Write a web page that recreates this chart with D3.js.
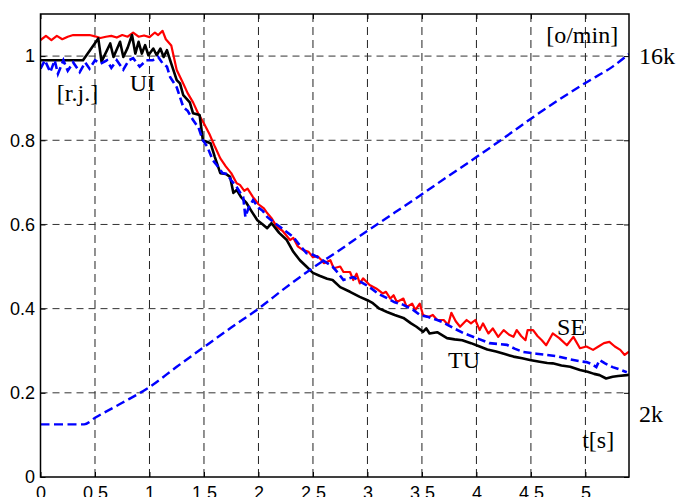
<!DOCTYPE html>
<html><head><meta charset="utf-8">
<script src="https://cdn.jsdelivr.net/npm/d3@7"></script>
<style>html,body{margin:0;padding:0;background:#fff;overflow:hidden}</style>
</head><body><svg id="c" width="678" height="497"></svg>
<script>
// ---- data ----
const xTicks = [0,0.5,1,1.5,2,2.5,3,3.5,4,4.5,5];
const yTicks = [0,0.2,0.4,0.6,0.8,1];
const rpmTicks = [2,16];

// SE (red, solid) [t, r.j.]
const seData = [[0,1.038],[0.05,1.048],[0.1,1.038],[0.15,1.048],[0.2,1.04],[0.25,1.046],[0.3,1.05],[0.45,1.05],[0.5,1.047],[0.55,1.043],[0.6,1.046],[0.65,1.048],[0.7,1.044],[0.75,1.05],[0.8,1.046],[0.85,1.056],[0.9,1.046],[0.95,1.049],[1.0,1.045],[1.05,1.056],[1.08,1.05],[1.12,1.06],[1.15,1.04],[1.2,1.025],[1.25,0.967],[1.3,0.94],[1.35,0.912],[1.4,0.89],[1.45,0.862],[1.5,0.84],[1.55,0.815],[1.6,0.785],[1.65,0.757],[1.7,0.738],[1.75,0.722],[1.8,0.698],[1.83,0.694],[1.87,0.68],[1.9,0.685],[1.95,0.665],[2.0,0.648],[2.05,0.638],[2.08,0.627],[2.12,0.615],[2.17,0.594],[2.22,0.585],[2.29,0.563],[2.32,0.568],[2.36,0.548],[2.41,0.539],[2.46,0.535],[2.5,0.522],[2.54,0.525],[2.58,0.515],[2.6,0.508],[2.66,0.515],[2.69,0.496],[2.75,0.5],[2.78,0.487],[2.84,0.487],[2.87,0.468],[2.9,0.483],[2.93,0.46],[2.96,0.472],[3.02,0.456],[3.08,0.448],[3.14,0.436],[3.17,0.44],[3.21,0.424],[3.24,0.432],[3.27,0.416],[3.33,0.424],[3.36,0.404],[3.41,0.412],[3.44,0.397],[3.48,0.412],[3.51,0.385],[3.56,0.38],[3.6,0.385],[3.64,0.373],[3.7,0.373],[3.74,0.361],[3.77,0.39],[3.81,0.37],[3.85,0.357],[3.91,0.373],[3.95,0.365],[3.99,0.373],[4.03,0.349],[4.06,0.365],[4.11,0.341],[4.15,0.353],[4.2,0.333],[4.25,0.349],[4.3,0.338],[4.34,0.333],[4.37,0.349],[4.41,0.335],[4.45,0.325],[4.47,0.349],[4.52,0.349],[4.56,0.335],[4.6,0.325],[4.64,0.313],[4.7,0.341],[4.76,0.33],[4.83,0.313],[4.89,0.333],[4.95,0.306],[5.01,0.31],[5.07,0.302],[5.12,0.31],[5.17,0.318],[5.22,0.321],[5.27,0.31],[5.32,0.302],[5.36,0.29],[5.4,0.298]];

// TU (black, solid)
const tuData = [[0,0.99],[0.39,0.99],[0.53,1.042],[0.56,0.987],[0.64,1.03],[0.67,0.998],[0.73,1.034],[0.76,0.998],[0.8,1.02],[0.84,1.05],[0.87,1.006],[0.9,1.034],[0.93,1.006],[0.96,1.026],[0.99,1.002],[1.035,1.018],[1.066,1.002],[1.1,1.018],[1.13,0.998],[1.16,1.014],[1.19,0.99],[1.25,0.943],[1.28,0.935],[1.31,0.907],[1.37,0.89],[1.4,0.864],[1.46,0.86],[1.49,0.8],[1.56,0.793],[1.6,0.76],[1.65,0.722],[1.7,0.72],[1.74,0.713],[1.77,0.675],[1.8,0.682],[1.84,0.665],[1.89,0.651],[1.94,0.63],[1.99,0.61],[2.04,0.6],[2.08,0.591],[2.12,0.603],[2.19,0.58],[2.26,0.563],[2.32,0.535],[2.38,0.515],[2.44,0.5],[2.5,0.485],[2.56,0.478],[2.63,0.471],[2.68,0.468],[2.75,0.451],[2.84,0.44],[2.93,0.428],[3.0,0.42],[3.05,0.413],[3.11,0.4],[3.18,0.392],[3.25,0.385],[3.33,0.378],[3.4,0.365],[3.45,0.357],[3.51,0.345],[3.54,0.353],[3.57,0.341],[3.64,0.344],[3.73,0.33],[3.8,0.327],[3.87,0.325],[3.95,0.318],[4.03,0.31],[4.1,0.303],[4.18,0.298],[4.26,0.292],[4.34,0.286],[4.42,0.282],[4.49,0.278],[4.58,0.274],[4.65,0.271],[4.7,0.27],[4.78,0.265],[4.86,0.262],[4.95,0.254],[5.02,0.25],[5.08,0.245],[5.13,0.242],[5.19,0.234],[5.25,0.238],[5.3,0.24],[5.38,0.242],[5.4,0.243]];

// UI (blue, dashed)
const uiData = [[0,0.97],[0.04,0.99],[0.09,0.962],[0.13,0.99],[0.16,0.958],[0.21,0.99],[0.25,0.965],[0.3,0.985],[0.36,0.962],[0.41,0.985],[0.45,0.97],[0.5,0.99],[0.55,0.982],[0.61,0.99],[0.65,0.972],[0.7,0.99],[0.76,0.968],[0.81,0.99],[0.85,0.995],[0.91,0.975],[0.97,0.99],[1.03,0.99],[1.08,0.998],[1.12,0.983],[1.16,0.975],[1.19,0.95],[1.25,0.926],[1.31,0.879],[1.35,0.87],[1.4,0.848],[1.45,0.83],[1.49,0.8],[1.53,0.785],[1.58,0.753],[1.62,0.74],[1.67,0.722],[1.71,0.72],[1.75,0.705],[1.8,0.689],[1.84,0.672],[1.86,0.665],[1.88,0.618],[1.91,0.64],[1.95,0.658],[2.0,0.64],[2.04,0.632],[2.08,0.618],[2.14,0.605],[2.2,0.594],[2.26,0.582],[2.32,0.57],[2.38,0.55],[2.44,0.532],[2.5,0.528],[2.56,0.52],[2.62,0.51],[2.68,0.5],[2.73,0.485],[2.78,0.468],[2.83,0.472],[2.87,0.475],[2.95,0.462],[3.02,0.451],[3.1,0.435],[3.18,0.425],[3.25,0.415],[3.33,0.409],[3.42,0.397],[3.48,0.385],[3.56,0.38],[3.64,0.373],[3.69,0.368],[3.78,0.355],[3.88,0.342],[4.0,0.33],[4.12,0.318],[4.2,0.316],[4.28,0.314],[4.35,0.305],[4.43,0.297],[4.55,0.293],[4.65,0.29],[4.74,0.287],[4.85,0.28],[4.95,0.275],[5.01,0.273],[5.06,0.268],[5.1,0.261],[5.13,0.278],[5.18,0.27],[5.25,0.261],[5.32,0.255],[5.38,0.249]];

// engine speed [k o/min] (blue, dashed, right axis)
const rpmData = [[0,2.0],[0.4,2.0],[0.5,2.25],[0.75,2.82],[1.0,3.42],[1.25,4.19],[1.5,4.94],[1.75,5.68],[2.0,6.4],[2.25,7.2],[2.5,7.95],[2.75,8.64],[3.0,9.36],[3.25,10.05],[3.5,10.75],[3.75,11.46],[4.0,12.16],[4.25,12.88],[4.5,13.62],[4.75,14.32],[5.0,14.98],[5.25,15.6],[5.4,16.08]];

// annotation texts (in data units)
const notes = [
  {text:"[r.j.]", t:0.15, v:0.893},
  {text:"UI", t:0.82, v:0.916},
  {text:"[o/min]", t:4.64, v:1.031},
  {text:"SE", t:4.74, v:0.337},
  {text:"TU", t:3.74, v:0.259},
  {text:"t[s]", t:4.97, v:0.069}
];

// ---- layout ----
const svg = d3.select("#c");
const L = 40.5, R = 629, T = 14, B = 477;
const x = d3.scaleLinear().domain([0,5.4]).range([L,R]);
const y = d3.scaleLinear().domain([0,1.1]).range([B,T]);
const yR = d3.scaleLinear().domain([0,17.6]).range([B,T]);

svg.append("rect").attr("width",678).attr("height",497).attr("fill","#fff");

// grid
const g = svg.append("g");
g.selectAll(".vg").data(xTicks.filter(d=>d>0)).join("line")
  .attr("x1",d=>x(d)).attr("x2",d=>x(d)).attr("y1",T).attr("y2",B)
  .attr("stroke","#222").attr("stroke-width",1).attr("stroke-dasharray","8,5");
g.selectAll(".hg").data(yTicks.filter(d=>d>0)).join("line")
  .attr("x1",L).attr("x2",R).attr("y1",d=>y(d)).attr("y2",d=>y(d))
  .attr("stroke","#333").attr("stroke-width",1).attr("stroke-dasharray","7,5");

// axes
const fontTick = "'Liberation Sans', Arial, Helvetica, sans-serif";
const ax = svg.append("g").attr("transform",`translate(${L},0)`)
  .call(d3.axisLeft(y).tickValues(yTicks).tickSizeInner(-5).tickSizeOuter(0).tickPadding(5.5).tickFormat(d3.format("")));
const bx = svg.append("g").attr("transform",`translate(0,${B})`)
  .call(d3.axisBottom(x).tickValues(xTicks).tickSizeInner(-5).tickSizeOuter(0).tickPadding(9).tickFormat(d3.format("")));
const rx = svg.append("g").attr("transform",`translate(${R},0)`)
  .call(d3.axisRight(y).tickValues(yTicks).tickSizeInner(-5).tickSizeOuter(0).tickFormat(""));
const tx = svg.append("g").attr("transform",`translate(0,${T})`)
  .call(d3.axisTop(x).tickValues(xTicks).tickSizeInner(-5).tickSizeOuter(0).tickFormat(""));
[ax,bx,rx,tx].forEach(a=>{
  a.select(".domain").remove();
  a.selectAll("line").attr("stroke","#000");
  a.selectAll("text").attr("font-family",fontTick).attr("font-size",18).attr("fill","#000");
});

// curves
const clip = svg.append("clipPath").attr("id","pc").append("rect")
  .attr("x",L).attr("y",T).attr("width",R-L).attr("height",B-T);
const lg = svg.append("g").attr("clip-path","url(#pc)");
const line = d3.line().x(d=>x(d[0])).y(d=>y(d[1]));
const lineR = d3.line().x(d=>x(d[0])).y(d=>yR(d[1])).curve(d3.curveMonotoneX);

lg.append("path").datum(seData).attr("d",line).attr("fill","none")
  .attr("stroke","#ff0000").attr("stroke-width",2.2).attr("stroke-linejoin","round");
lg.append("path").datum(tuData).attr("d",line).attr("fill","none")
  .attr("stroke","#000").attr("stroke-width",2.6).attr("stroke-linejoin","round");
lg.append("path").datum(uiData).attr("d",line).attr("fill","none")
  .attr("stroke","#0000ff").attr("stroke-width",2.6).attr("stroke-dasharray","8,4");
lg.append("path").datum(rpmData).attr("d",lineR).attr("fill","none")
  .attr("stroke","#0000ff").attr("stroke-width",2.4).attr("stroke-dasharray","9,4.5");

// box
svg.append("rect").attr("x",L).attr("y",T).attr("width",R-L).attr("height",B-T)
  .attr("fill","none").attr("stroke","#000").attr("stroke-width",1.5);

// annotations
const fontSerif = "'Liberation Serif', 'Times New Roman', serif";
svg.selectAll(".note").data(notes).join("text")
  .attr("x",d=>x(d.t)).attr("y",d=>y(d.v))
  .attr("font-family",fontSerif).attr("font-size",24).attr("fill","#000")
  .text(d=>d.text);

// right-hand speed labels
svg.selectAll(".rl").data(rpmTicks).join("text")
  .attr("x",R+10).attr("y",d=>yR(d)).attr("dy",d=>d===16?"0.35em":"-0.08em")
  .attr("font-family",fontSerif).attr("font-size",24).attr("fill","#000")
  .text(d=>d+"k");
</script></body></html>
